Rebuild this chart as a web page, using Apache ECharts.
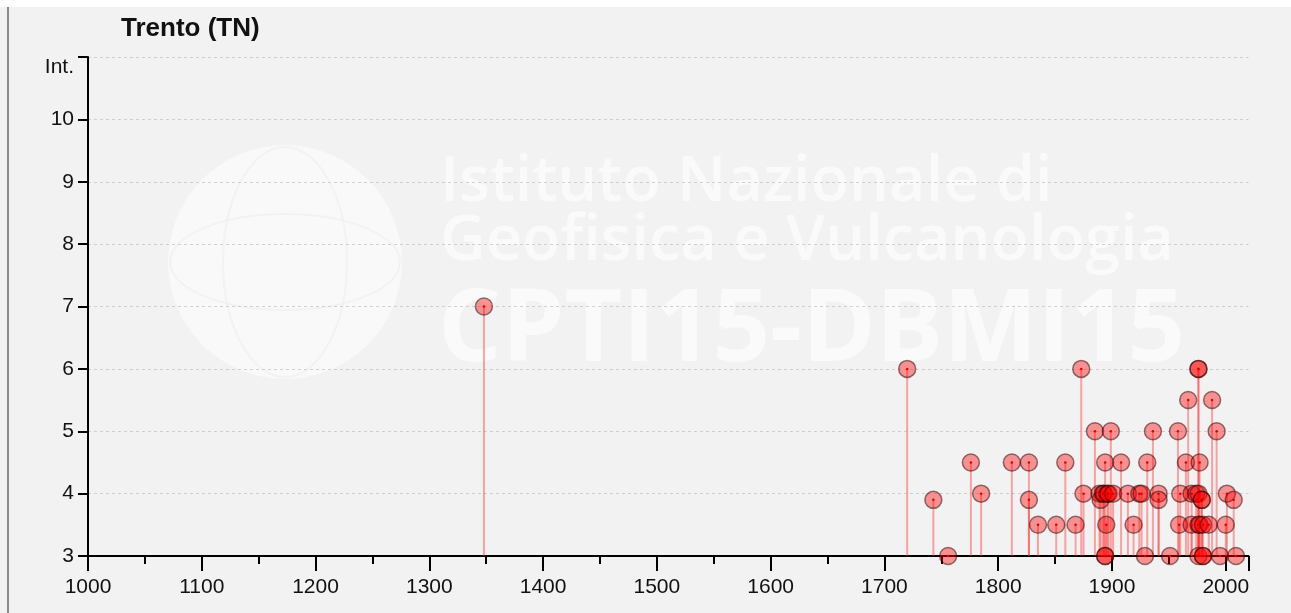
<!DOCTYPE html>
<html>
<head>
<meta charset="utf-8">
<script src="https://cdn.jsdelivr.net/npm/echarts@6/dist/echarts.min.js"></script>
<style>
html,body{margin:0;padding:0;background:#f2f2f2;}
#c{width:1291px;height:613px;}
</style>
</head>
<body>
<div id="c"></div>
<script>
// Data (year of event, intensity felt at Trento)
const years = [1348, 1720, 1743, 1756, 1776, 1785, 1812, 1827, 1827, 1835, 1851, 1859, 1868, 1873, 1875,
  1885, 1889, 1890, 1892, 1893, 1894, 1894, 1894, 1895, 1896, 1897, 1899, 1901, 1908, 1914, 1919, 1924, 1926,
  1929, 1931, 1936, 1941, 1941, 1951, 1958, 1959, 1960, 1965, 1967, 1970, 1970, 1974, 1976, 1976, 1976, 1976,
  1976, 1977, 1977, 1979, 1979, 1980, 1980, 1980, 1985, 1988, 1992, 1995, 2000, 2001, 2007, 2009];
const intensities = [7, 6, 3.9, 3, 4.5, 4, 4.5, 4.5, 3.9, 3.5, 3.5, 4.5, 3.5, 6, 4,
  5, 4, 3.9, 4, 4, 4.5, 3, 3, 3.5, 4, 4, 5, 4, 4.5, 4, 3.5, 4, 4,
  3, 4.5, 5, 4, 3.9, 3, 5, 3.5, 4, 4.5, 5.5, 4, 3.5, 4, 6, 6, 4, 3.5,
  3, 4.5, 3.5, 3.9, 3.9, 3.5, 3, 3, 3.5, 5.5, 5, 3, 3.5, 4, 3.9, 3];
const titleText = 'Trento (TN)';
const yTicks = [3, 4, 5, 6, 7, 8, 9, 10, 11];
const yTopLabel = 'Int.';
const xMin = 1000, xMax = 2020, yMin = 3, yMax = 11;

const points = years.map((y, i) => [y, intensities[i]]);
const chart = echarts.init(document.getElementById('c'));
const FONT = 'Liberation Sans, Arial, sans-serif';
const WM = 'rgba(255,255,255,0.62)';

chart.setOption({
  backgroundColor: '#f2f2f2',
  animation: false,
  title: {
    text: titleText, left: 116, top: 11,
    textStyle: {fontFamily: FONT, fontSize: 26, fontWeight: 'bold', color: '#111'}
  },
  graphic: [
    {type: 'rect', left: 0, top: 0, shape: {width: 1291, height: 7}, style: {fill: '#ffffff'}, silent: true, z: -10},
    {type: 'rect', left: 7, top: 7, shape: {width: 2, height: 606}, style: {fill: '#8a8a8a'}, silent: true, z: -10},
    {type: 'group', silent: true, z: -5, children: [
      {type: 'circle', shape: {cx: 285, cy: 262, r: 117}, style: {fill: 'rgba(255,255,255,0.5)'}},
      {type: 'ellipse', shape: {cx: 285, cy: 262, rx: 62, ry: 115}, style: {fill: 'none', stroke: 'rgba(240,240,240,0.7)', lineWidth: 2}},
      {type: 'ellipse', shape: {cx: 285, cy: 262, rx: 115, ry: 48}, style: {fill: 'none', stroke: 'rgba(240,240,240,0.7)', lineWidth: 2}},
      {type: 'text', left: 440, top: 152, style: {text: 'Istituto Nazionale di', font: '600 63px "Open Sans", sans-serif', fill: WM}},
      {type: 'text', left: 440, top: 211, style: {text: 'Geofisica e Vulcanologia', font: '600 63px "Open Sans", sans-serif', fill: WM}},
      {type: 'text', left: 438, top: 283, style: {text: 'CPTI15-DBMI15', font: 'bold 100px "Open Sans", sans-serif', fill: WM}}
    ]}
  ],
  grid: {left: 88, right: 42.5, top: 57, bottom: 57, containLabel: false},
  xAxis: {
    type: 'value', min: xMin, max: xMax, interval: 100,
    axisLine: {show: true, lineStyle: {color: '#000', width: 2}},
    axisTick: {show: true, length: 15, lineStyle: {color: '#000', width: 2}},
    minorTick: {show: true, splitNumber: 2, length: 8, lineStyle: {color: '#000', width: 2}},
    splitLine: {show: false},
    axisLabel: {fontFamily: FONT, fontSize: 21, color: '#111', margin: 21,
      formatter: v => (v % 100 === 0 ? String(v) : '')}
  },
  yAxis: {
    type: 'value', min: yMin, max: yMax, interval: 1,
    axisLine: {show: true, lineStyle: {color: '#000', width: 2}},
    axisTick: {show: true, length: 10, lineStyle: {color: '#000', width: 2}},
    splitLine: {show: true, lineStyle: {color: '#d0d0d0', type: [3, 3], width: 1}},
    axisLabel: {fontFamily: FONT, fontSize: 21, color: '#111', margin: 14,
      formatter: v => (v === yTicks[yTicks.length - 1] ? '{i|' + yTopLabel + '}' : (yTicks.indexOf(v) >= 0 ? String(v) : '')),
      rich: {i: {fontFamily: FONT, fontSize: 21, color: '#111', padding: [20, 0, 0, 0]}}}
  },
  series: [
    {
      type: 'custom', data: points, z: 2, clip: true,
      renderItem: function (params, api) {
        const p0 = api.coord([api.value(0), yMin]);
        const p1 = api.coord([api.value(0), api.value(1)]);
        return {type: 'line', shape: {x1: p0[0], y1: p0[1], x2: p1[0], y2: p1[1]},
          style: {stroke: 'rgba(255,40,40,0.4)', lineWidth: 2}};
      }
    },
    {
      type: 'scatter', data: points, symbol: 'circle', symbolSize: 17, z: 3, clip: false,
      itemStyle: {color: 'rgba(255,0,0,0.4)', borderColor: 'rgba(40,0,0,0.5)', borderWidth: 1.5, opacity: 1}
    },
    {
      type: 'scatter', data: points, symbol: 'circle', symbolSize: 2.5, z: 4, clip: false,
      itemStyle: {color: '#e00000', opacity: 1}
    }
  ]
});
</script>
</body>
</html>
